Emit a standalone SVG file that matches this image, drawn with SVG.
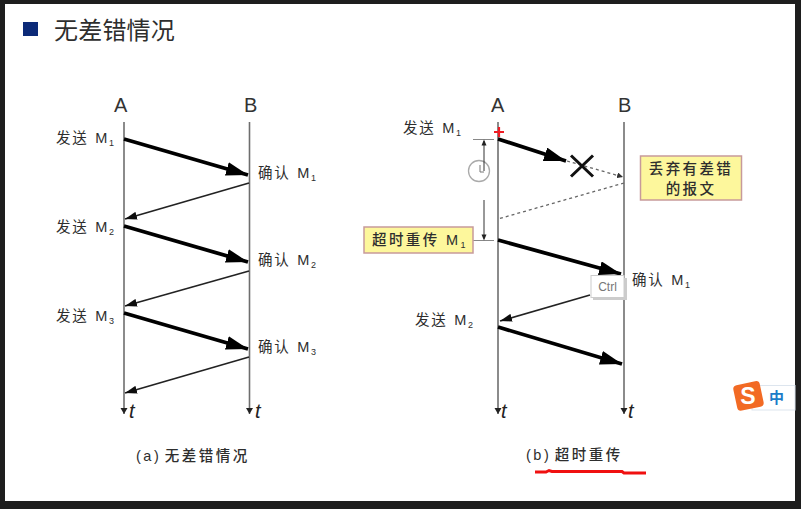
<svg xmlns="http://www.w3.org/2000/svg" width="801" height="509" viewBox="0 0 801 509">
<defs>
<marker id="hd" markerUnits="userSpaceOnUse" markerWidth="24" markerHeight="14" refX="22" refY="7" orient="auto"><path d="M0 0L22 7L0 14z" fill="#000"/></marker>
<marker id="ht" markerUnits="userSpaceOnUse" markerWidth="13" markerHeight="8" refX="12" refY="4" orient="auto"><path d="M0 0L12 4L0 8z" fill="#111"/></marker>
<marker id="ha" markerUnits="userSpaceOnUse" markerWidth="7" markerHeight="8" refX="6" refY="4" orient="auto"><path d="M0 .5L6 4L0 7.5z" fill="#222"/></marker>
<marker id="hs" markerUnits="userSpaceOnUse" markerWidth="7" markerHeight="6" refX="6" refY="3" orient="auto"><path d="M0 0L6 3L0 6z" fill="#333"/></marker>
<filter id="b" x="-5%" y="-5%" width="110%" height="110%"><feGaussianBlur stdDeviation="0.45"/></filter>
</defs>
<style>
text{font-family:"Liberation Sans","Noto Sans CJK SC",sans-serif;fill:#2e2e2e}
.l{font-size:14.500px;letter-spacing:1.700px;word-spacing:1px}
.c{font-size:14.500px;letter-spacing:2.400px;font-weight:500}
.cap{word-spacing:-3px;letter-spacing:2.500px}
.s{font-size:9px}
.h{font-size:20px;fill:#333}
.t{font-size:20px;font-style:italic;fill:#222}
.ax{stroke:#6e6e6e;stroke-width:1.600;fill:none;marker-end:url(#ha)}
.thick{stroke:#000;stroke-width:3.800;fill:none;marker-end:url(#hd)}
.thin{stroke:#222;stroke-width:1.700;fill:none;marker-end:url(#ht)}
.dash{stroke:#666;stroke-width:1.300;stroke-dasharray:3 3;fill:none}
.note{fill:#fdf79c;stroke:#c79a9a;stroke-width:1.500}
.tick{stroke:#888;stroke-width:1.200}
.dim{stroke:#333;stroke-width:1;fill:none}
</style>
<rect width="801" height="509" fill="#1e1e1e"/>
<rect x="5" y="4" width="790" height="497" fill="#fff"/>
<g id="title"><rect x="23" y="22" width="15" height="14" fill="#0c2a78"/><text x="54" y="39" style="font-size:24px;letter-spacing:.2px">无差错情况</text></g>
<g id="clock" filter="url(#b)"><circle cx="479" cy="171" r="10.500" fill="#fff" stroke="#aaa" stroke-width="1.300"/><path d="M480 165V172H484" fill="none" stroke="#777"/></g>
<g id="connectors" filter="url(#b)">
<path class="ax" d="M124 122V414"/><path class="ax" d="M249.500 122V414"/>
<path class="ax" d="M498 122V414"/><path class="ax" d="M624 122V414"/>
<path class="thick" d="M124 139L248 175"/>
<path class="thin" d="M249 183L125 219"/>
<path class="thick" d="M124 226L248 262"/>
<path class="thin" d="M249 271L125 306"/>
<path class="thick" d="M124 313L248 349"/>
<path class="thin" d="M249 357L125 393"/>
<path class="thick" d="M498 139L566 161"/>
<path class="dash" d="M567 161L623 177" marker-end="url(#hs)"/>
<path class="dash" d="M624 183L498 219"/>
<path class="thick" d="M498 240L621 274"/>
<path class="thin" d="M590 295L500 321"/>
<path class="thick" d="M498 327L622 364"/>
<path class="tick" d="M473 139.500H494M473 240.500H494"/>
<path class="dim" d="M484 171V141M484 200V238"/>
<path d="M484 139.500l-2.500 6h5zM484 240.500l-2.500-6h5z" fill="#222"/>
</g>
<g id="discard-x"><path d="M571 155.500L593 176.500M593 155.500L571 176.500" stroke="#111" stroke-width="3" fill="none"/></g>
<g id="plus"><path d="M499 127V137M494 132H504" stroke="#f01c24" stroke-width="2.200"/></g>
<g id="a-labels">
<text class="h" x="114" y="112">A</text><text class="h" x="244" y="112">B</text>
<text class="l" x="56" y="143">发送 M<tspan class="s" dy="3">1</tspan></text>
<text class="l" x="56" y="232">发送 M<tspan class="s" dy="3">2</tspan></text>
<text class="l" x="56" y="321">发送 M<tspan class="s" dy="3">3</tspan></text>
<text class="l" x="258" y="178">确认 M<tspan class="s" dy="3">1</tspan></text>
<text class="l" x="258" y="265">确认 M<tspan class="s" dy="3">2</tspan></text>
<text class="l" x="258" y="352">确认 M<tspan class="s" dy="3">3</tspan></text>
<text class="t" x="129" y="418">t</text><text class="t" x="255" y="418">t</text>
<text class="c cap" x="136" y="461">(a) 无差错情况</text>
</g>
<g id="b-labels">
<text class="h" x="491" y="112">A</text><text class="h" x="618" y="112">B</text>
<text class="l" x="403" y="133">发送 M<tspan class="s" dy="3">1</tspan></text>
<text class="l" x="415" y="325">发送 M<tspan class="s" dy="3">2</tspan></text>
<text class="l" x="632" y="285">确认 M<tspan class="s" dy="3">1</tspan></text>
<text class="t" x="501" y="418">t</text><text class="t" x="628" y="418">t</text>
<text class="c cap" x="526" y="460">(b) 超时重传</text>
</g>
<g id="note-discard"><rect class="note" x="640.500" y="156" width="101" height="44"/><text class="c" x="691" y="174" text-anchor="middle">丢弃有差错</text><text class="c" x="691" y="194" text-anchor="middle">的报文</text></g>
<g id="note-retransmit"><rect class="note" x="364" y="227" width="109" height="26"/><text class="c" x="372" y="245">超时重传 M<tspan class="s" dy="3">1</tspan></text></g>
<g id="ctrl"><rect x="593" y="278" width="34" height="22" fill="#ccc"/><rect x="591" y="275.500" width="33" height="22" fill="#fff" stroke="#ccc"/><text x="607.500" y="291" text-anchor="middle" style="font-size:12px;fill:#777">Ctrl</text></g>
<g id="underline"><path d="M535 472H546L549 470.500L552 471.500H622L624 473H646" stroke="#f01010" stroke-width="3" fill="none"/></g>
<g id="ime"><rect x="752" y="385.500" width="43" height="24.500" fill="#fff" stroke="#dde5ee"/><rect x="735" y="383" width="27" height="26" rx="4" fill="#f26a24" transform="rotate(-12 748 396)"/><text x="748" y="404" text-anchor="middle" style="font-size:23px;font-weight:bold;fill:#fff">S</text><text x="769" y="403" style="font-size:15px;font-weight:bold;fill:#1c7cc8;font-family:'Noto Sans CJK SC',sans-serif">中</text></g>
</svg>
